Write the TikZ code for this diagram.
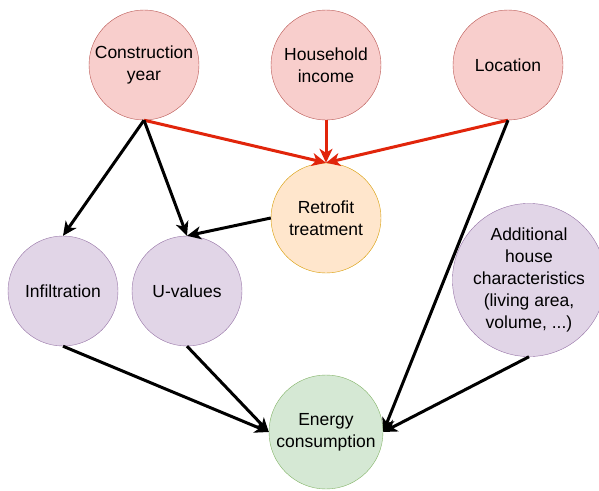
\documentclass[tikz,border=0pt]{standalone}
\usepackage{fontspec}
\setmainfont{Liberation Sans}
\usetikzlibrary{arrows.meta}
\definecolor{redfill}{HTML}{F8CECC}
\definecolor{redline}{HTML}{B85450}
\definecolor{orangefill}{HTML}{FFE6CC}
\definecolor{orangeline}{HTML}{D79B00}
\definecolor{purplefill}{HTML}{E1D5E7}
\definecolor{purpleline}{HTML}{9673A6}
\definecolor{greenfill}{HTML}{D5E8D4}
\definecolor{greenline}{HTML}{82B366}
\definecolor{arrowred}{HTML}{E1250B}
\begin{document}
\begin{tikzpicture}[x=1pt, y=-1pt, >={Stealth[length=14pt,width=13pt,inset=4pt]},
  var/.style={circle, minimum size=110pt, inner sep=0pt, align=center,
    font=\fontsize{17.5}{22}\selectfont},
  cause/.style={var, fill=redfill, draw=redline},
  treat/.style={var, fill=orangefill, draw=orangeline},
  mid/.style={var, fill=purplefill, draw=purpleline},
  outcome/.style={var, fill=greenfill, draw=greenline},
  link/.style={->, line width=3pt},
  redlink/.style={link, arrowred}]
\useasboundingbox (0,0) rectangle (599,490);
% top row
\node [cause] (year) at (144,65) {Construction\\year};
\node [cause] (income) at (326,65) {Household\\income};
\node [cause] (loc) at (508,65) {Location};
\node [treat] (retro) at (326,218) {Retrofit\\treatment};
% middle row
\node [mid] (infil) at (63,291) {Infiltration};
\node [mid] (uval) at (187,291) {U-values};
\node [mid, minimum size=144pt] (extra) at (529,280) {Additional\\house\\characteristics\\(living area,\\volume, ...)};
\node [outcome, minimum size=114pt] (energy) at (326,432) {Energy\\consumption};
% arrows
\draw [redlink] (year.south) -- (retro.north);
\draw [redlink] (income.south) -- (retro.north);
\draw [redlink] (loc.south) -- (retro.north);
\draw [link] (year.south) -- (infil.north);
\draw [link] (year.south) -- (uval.north);
\draw [link] (retro.west) -- (uval.north);
\draw [link] (loc.south) -- (energy.east);
\draw [link] (infil.south) -- (energy.west);
\draw [link] (uval.south) -- (energy.west);
\draw [link] (extra.south) -- (energy.east);
\end{tikzpicture}
\end{document}
